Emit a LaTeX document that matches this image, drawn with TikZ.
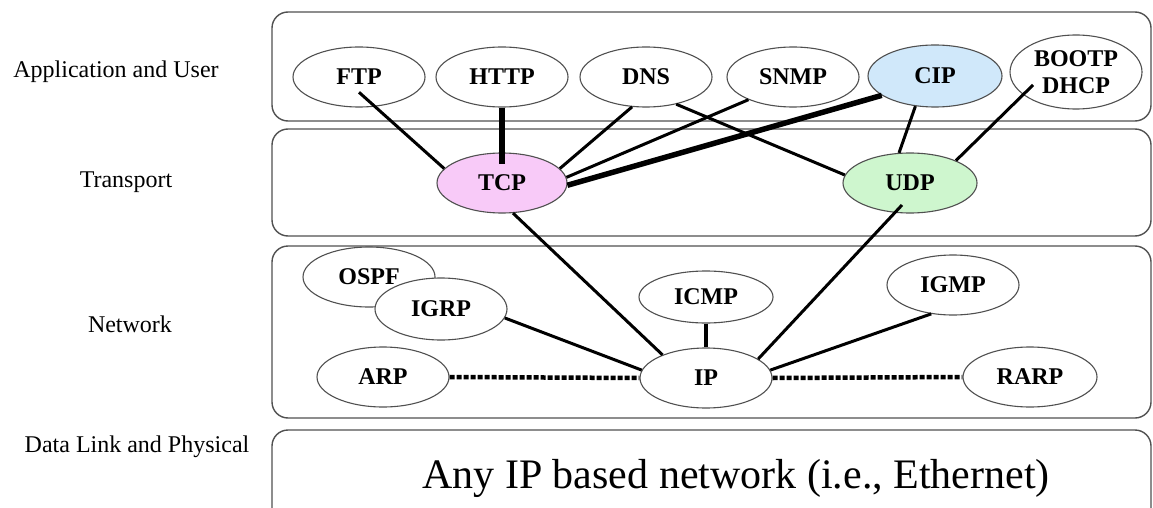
\documentclass[tikz,border=0pt]{standalone}
\usepackage{fontspec}
\setmainfont{Liberation Serif}
\usetikzlibrary{shapes.geometric,calc}
\definecolor{tcppink}{RGB}{248,202,248}
\definecolor{udpgreen}{RGB}{206,246,206}
\definecolor{cipblue}{RGB}{208,232,250}
\definecolor{boxgray}{RGB}{80,80,80}
\tikzset{
  layer/.style={draw=boxgray,line width=1.4pt,rounded corners=16pt,minimum width=879pt,inner sep=0pt},
  proto/.style={ellipse,draw=boxgray,line width=1.1pt,fill=white,minimum width=132pt,minimum height=60pt,inner sep=0pt,
    font=\fontsize{24}{27}\selectfont\bfseries},
  lbl/.style={anchor=base,font=\fontsize{24}{28}\selectfont},
  link/.style={line width=3pt},
  fatlink/.style={line width=5.5pt},
  droplink/.style={line width=4pt},
  dotlink/.style={line width=4.5pt,dash pattern=on 5pt off 2pt},
}

\begin{document}
\begin{tikzpicture}[x=1pt,y=-1pt]
    \clip (0,0) rectangle (1153,508);
    \fill[white] (0,0) rectangle (1153,508);
    % layers
    \node[layer,minimum height=109pt] (applayer) at (711.5,66.5) {};
    \node[layer,minimum height=107pt] (translayer) at (711.5,182.5) {};
    \node[layer,minimum height=172pt] (netlayer) at (711.5,332) {};
    \node[layer,minimum height=110pt] (dllayer) at (711.5,485) {};
    \coordinate (dltop) at (dllayer.north);
    \node[lbl] (applbl) at (116,78) {Application and User};
    \node[lbl] (translbl) at (126,187) {Transport};
    \node[lbl] (netlbl) at (130,332) {Network};
    \node[lbl] (dllbl) at (137,452) {Data Link and Physical};
    \node[anchor=base,font=\fontsize{42}{46}\selectfont] (anyip) at (736,488) {Any IP based network (i.e., Ethernet)};
    % protocols
    \node[proto] (ftp) at (359,77) {FTP};
    \node[proto] (http) at (502,77) {HTTP};
    \node[proto] (dns) at (646,77) {DNS};
    \node[proto] (snmp) at (793,77) {SNMP};
    \node[proto,fill=cipblue,minimum width=134pt,minimum height=62pt] (cip) at (935,76) {CIP};
    \node[proto,minimum height=74pt,align=center] (bootp) at (1076,72) {BOOTP\\DHCP};
    \node[proto,fill=tcppink,minimum width=130pt] (tcp) at (502,183) {TCP};
    \node[proto,fill=udpgreen,minimum width=134pt] (udp) at (910,183) {UDP};
    \node[proto] (ospf) at (369,277) {OSPF};
    \node[proto,minimum height=62pt] (igrp) at (441,309) {IGRP};
    \node[proto] (arp) at (383,377) {ARP};
    \node[proto,minimum width=134pt,minimum height=52pt] (icmp) at (706,297) {ICMP};
    \node[proto] (ip) at (706,378) {IP};
    \node[proto] (igmp) at (953,285) {IGMP};
    \node[proto,minimum width=134pt] (rarp) at (1030,377) {RARP};
    % connections
    \draw[link] ($(ftp)!.5!(ftp.south)$) -- (tcp.166);
    \draw[fatlink] (http.south) -- ($(tcp.north)+(0,12)$);
    \draw[link] (dns.-115) -- (tcp.14);
    \draw[link] (snmp.-153) -- (tcp.5);
    \draw[fatlink] (cip.-160) -- (tcp.-2);
    \draw[link] (dns.-42) -- (udp.173);
    \draw[link] (cip.-123) -- (udp.110);
    \draw[link] ($(bootp.center)+(-43,13)$) -- (udp.26);
    \draw[link] (tcp.-70) -- (ip.152);
    \draw[link] ($(udp.center)+(-8,22)$) -- (ip.20);
    \draw[link] (igrp.-8) -- (ip.173);
    \draw[link] (igmp.-127) -- (ip.7);
    \draw[droplink] (icmp.south) -- (ip.north);
    \draw[dotlink] (arp.east) -- (ip.west);
    \draw[dotlink] (ip.east) -- (rarp.west);
    \draw[droplink] ($(arp.south)+(7,0)$) -- ($(arp.south)+(7,0)$ |- dltop);
    \draw[droplink] ($(ip.south)+(2,0)$) -- ($(ip.south)+(2,0)$ |- dltop);
    \draw[droplink] ($(rarp.south)+(3,0)$) -- ($(rarp.south)+(3,0)$ |- dltop);
\end{tikzpicture}
\end{document}
